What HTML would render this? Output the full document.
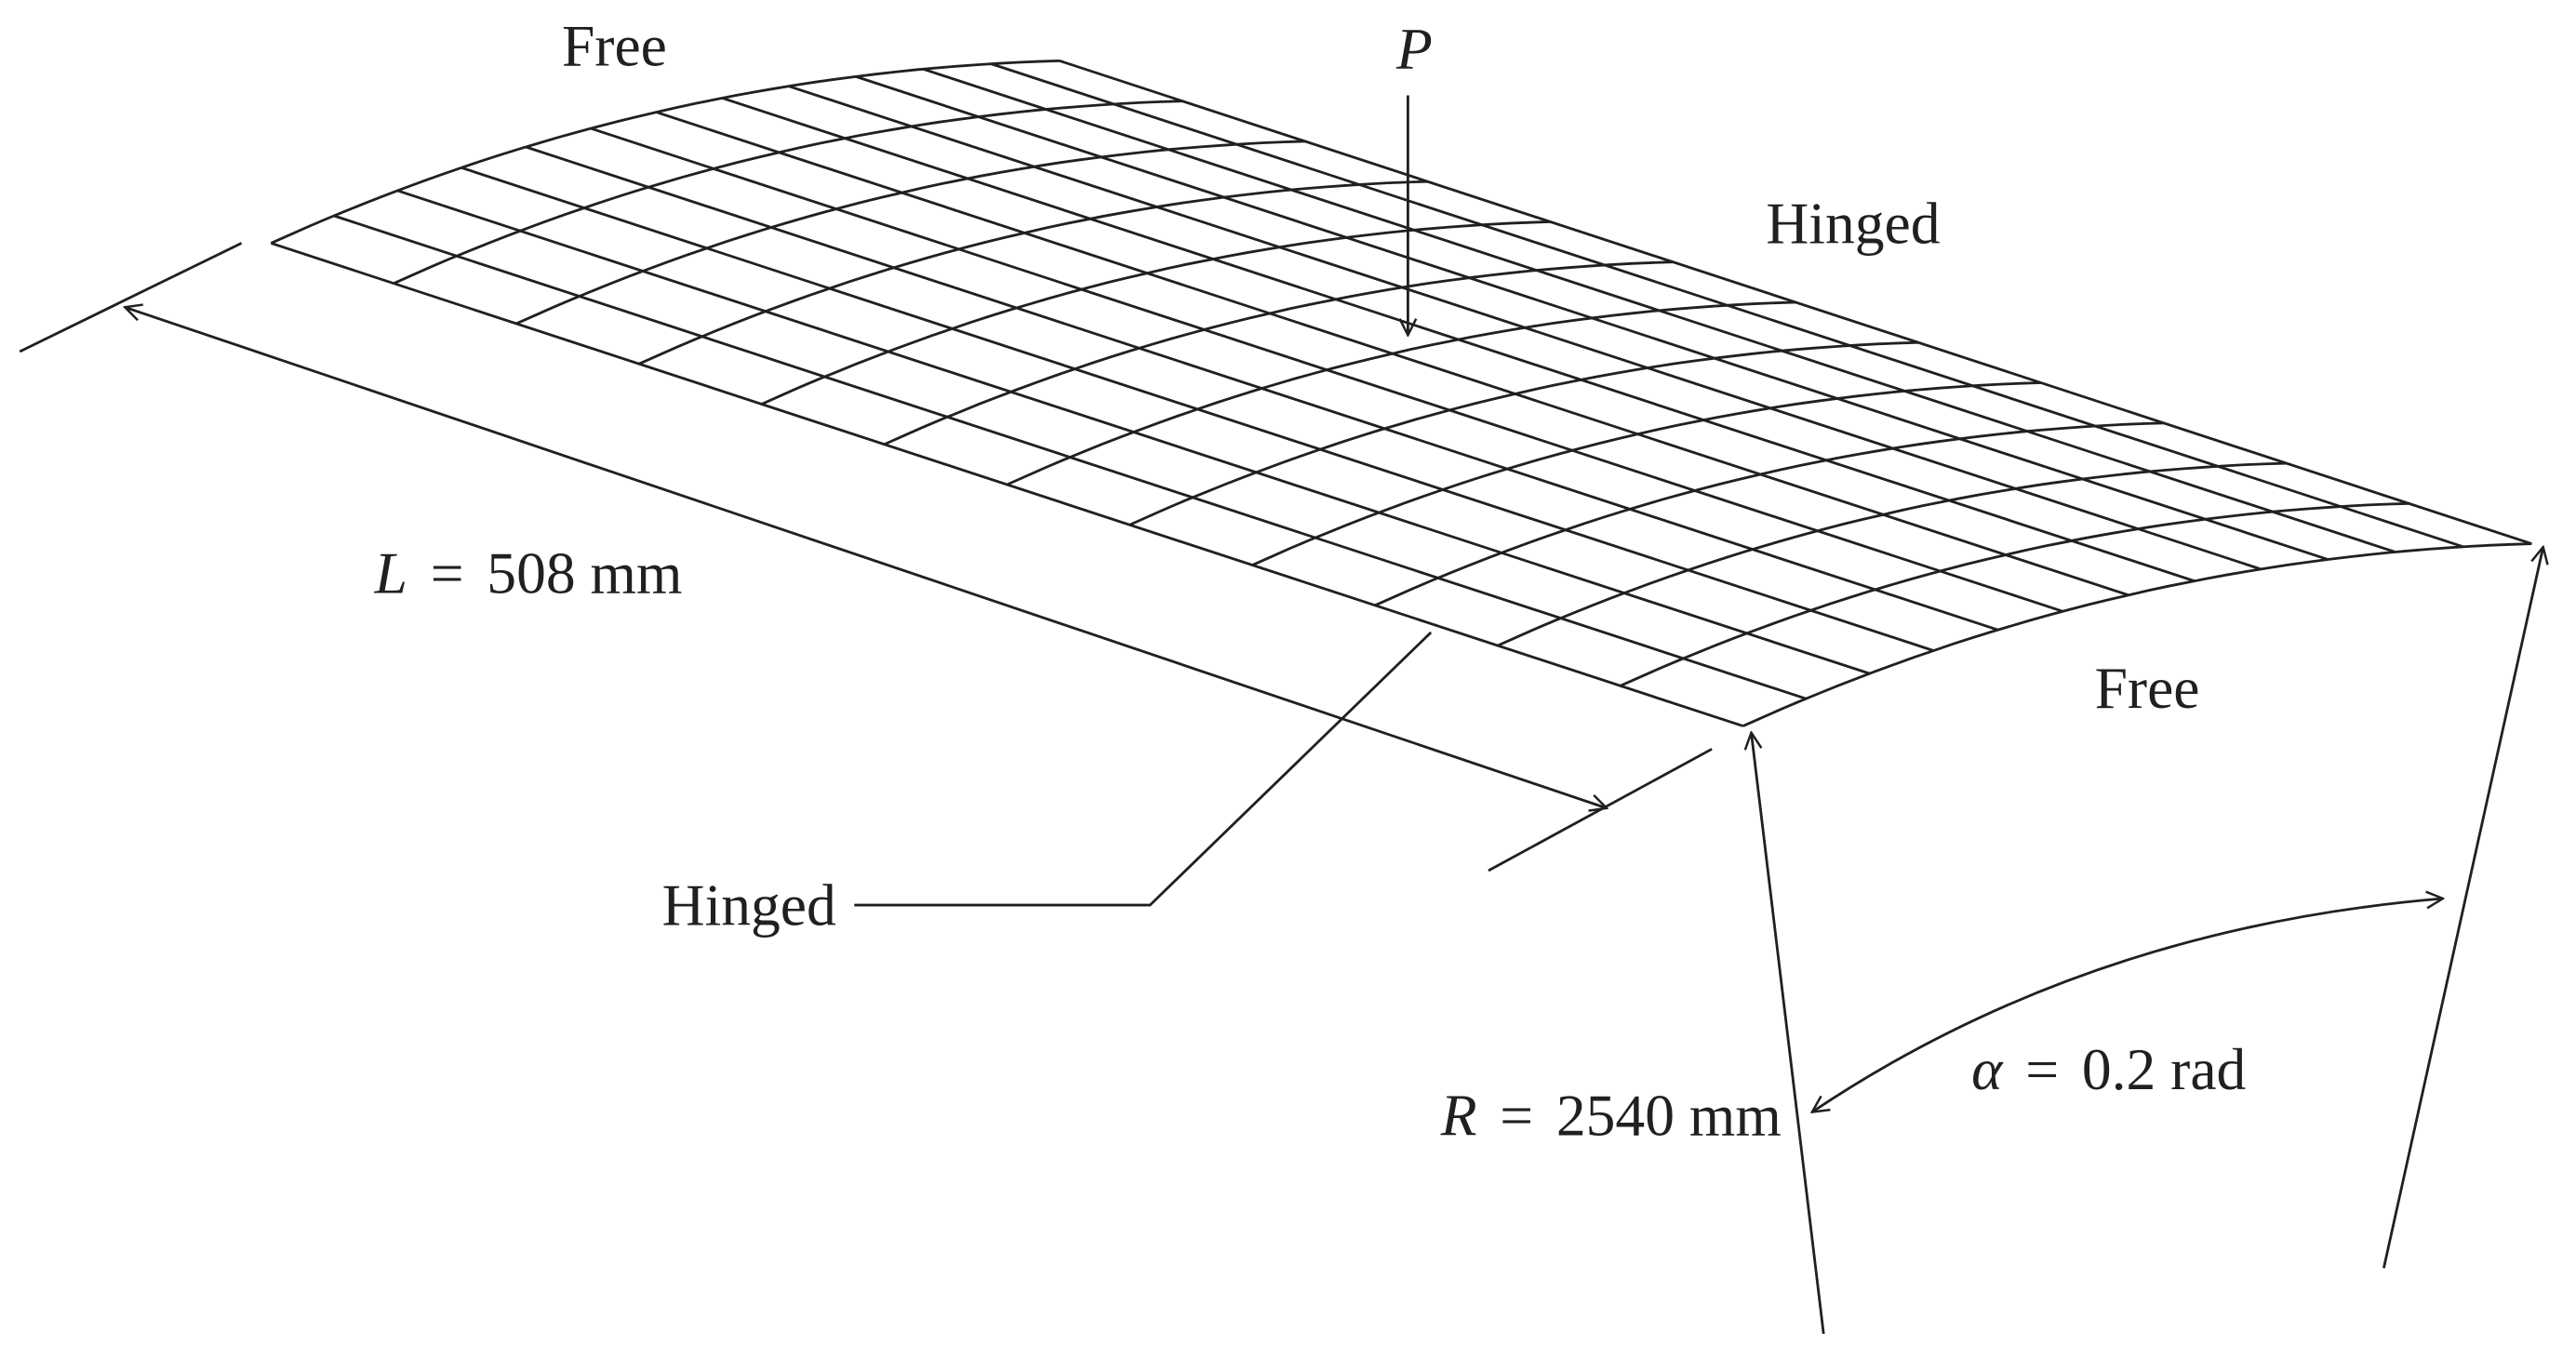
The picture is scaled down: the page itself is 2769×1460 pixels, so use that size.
<!DOCTYPE html>
<html><head><meta charset="utf-8"><style>
html,body{margin:0;padding:0;background:#fff;}
svg{display:block}
text{font-family:"Liberation Serif",serif;font-size:36px;fill:#231f20}
</style></head><body>
<svg width="2769" height="1460" viewBox="0 0 1568 826.7" xmlns="http://www.w3.org/2000/svg">
<defs>
<marker id="ah" viewBox="0 0 12 12" refX="11" refY="6" markerWidth="12" markerHeight="12" markerUnits="userSpaceOnUse" orient="auto-start-reverse">
<path d="M1,1 L11,6 L1,11" fill="none" stroke="#231f20" stroke-width="1.4"/>
</marker>
</defs>
<g id="mesh" stroke="#231f20" stroke-width="1.6" fill="none"></g>
<g stroke="#231f20" stroke-width="1.6" fill="none">
<line x1="12" y1="214" x2="147" y2="148"/>
<line x1="906" y1="530" x2="1042" y2="456"/>
<line x1="76" y1="187" x2="978" y2="492" marker-start="url(#ah)" marker-end="url(#ah)"/>
<line x1="857" y1="58" x2="857" y2="204" marker-end="url(#ah)"/>
<polyline points="520,551 700,551 871,385"/>
<line x1="1110" y1="812" x2="1066" y2="446" marker-end="url(#ah)"/>
<line x1="1451" y1="772" x2="1548" y2="333" marker-end="url(#ah)"/>
<path d="M1103,677 Q1270,565 1487,547" marker-start="url(#ah)" marker-end="url(#ah)"/>
</g>
<text x="342" y="40">Free</text>
<text x="850" y="42" font-style="italic">P</text>
<text x="1075" y="148">Hinged</text>
<text x="1275" y="431">Free</text>
<text x="228" y="361"><tspan font-style="italic">L</tspan><tspan dx="14">=</tspan><tspan dx="14">508 mm</tspan></text>
<text x="403" y="563">Hinged</text>
<text x="877" y="691"><tspan font-style="italic">R</tspan><tspan dx="14">=</tspan><tspan dx="14">2540 mm</tspan></text>
<text x="1200" y="663"><tspan font-style="italic">α</tspan><tspan dx="14">=</tspan><tspan dx="14">0.2 rad</tspan></text>
</svg>
<script>
const arcDivisions = 12;
const lengthDivisions = 12;
const A=[165,148], Q=[394,44], B=[645,37], T=[896,294];
const g=document.getElementById('mesh');
function arc(u){const a=(1-u)*(1-u),b=2*u*(1-u),c=u*u;return [a*A[0]+b*Q[0]+c*B[0],a*A[1]+b*Q[1]+c*B[1]];}
const NS='http://www.w3.org/2000/svg';
for(let i=0;i<=arcDivisions;i++){
  const p=arc(i/arcDivisions);
  const l=document.createElementNS(NS,'line');
  l.setAttribute('x1',p[0]);l.setAttribute('y1',p[1]);
  l.setAttribute('x2',p[0]+T[0]);l.setAttribute('y2',p[1]+T[1]);
  
  
  g.appendChild(l);
}
for(let j=0;j<=lengthDivisions;j++){
  const s=j/lengthDivisions;let pts=[];
  for(let k=0;k<=40;k++){const p=arc(k/40);pts.push((p[0]+s*T[0]).toFixed(1)+','+(p[1]+s*T[1]).toFixed(1));}
  const pl=document.createElementNS(NS,'polyline');
  pl.setAttribute('points',pts.join(' '));
  
  
  g.appendChild(pl);
}
</script>
</body></html>
